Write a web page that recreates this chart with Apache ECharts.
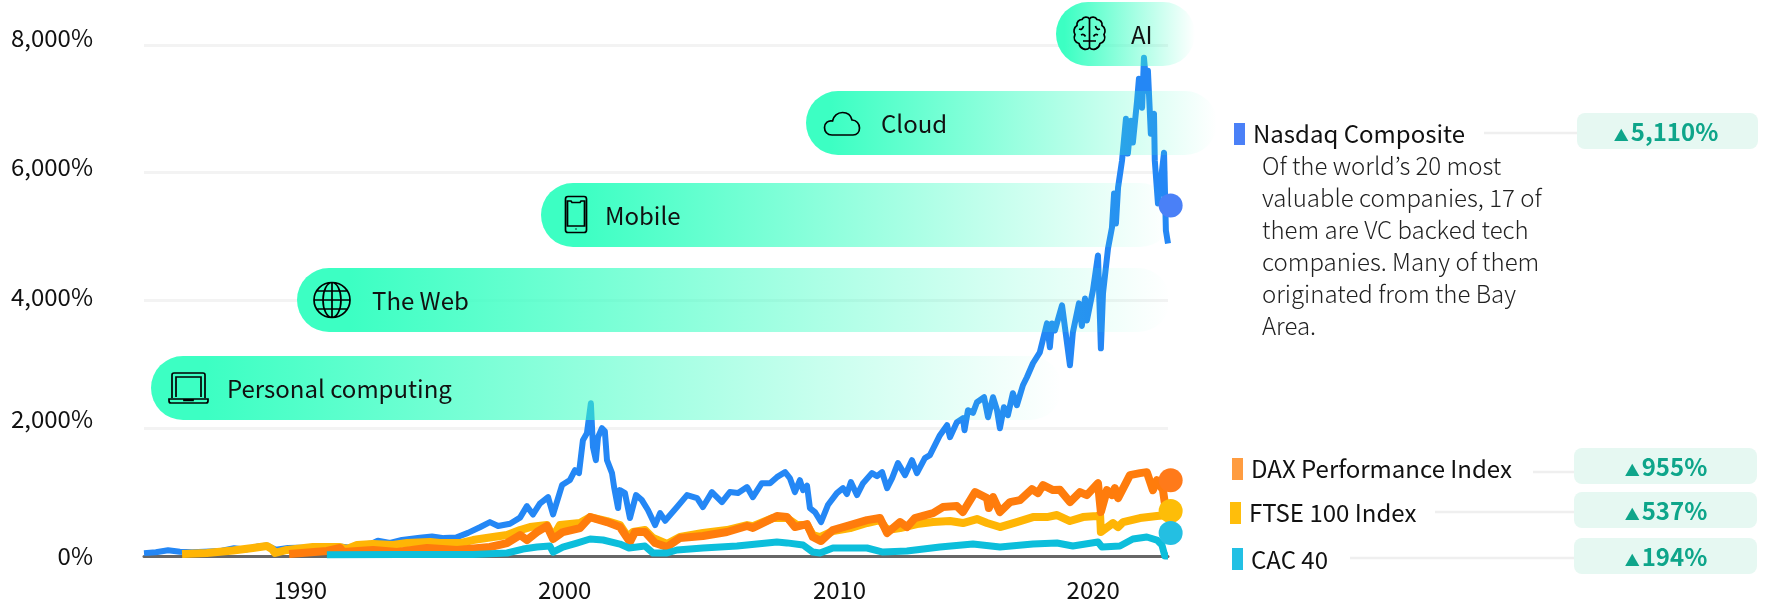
<!DOCTYPE html>
<html>
<head>
<meta charset="utf-8">
<style>
    html, body { margin: 0; padding: 0; background: #fff; }
    #chart { width: 1766px; height: 602px; }
</style>
<script src="https://cdn.jsdelivr.net/npm/echarts@6/dist/echarts.min.js"></script>
</head>
<body>
<div id="chart"></div>
<script>
const FONT = '"Noto Sans CJK KR", "Noto Sans", sans-serif';

// values: gain in % at a decimal year
const nasdaqDates = [1984.08,1984.53,1984.99,1985.44,1985.90,1986.58,1987.03,1987.49,1987.94,1988.39,1988.73,1989.07,1989.53,1990.21,1990.66,1991.12,1991.57,1991.80,1992.25,1992.71,1992.93,1993.39,1993.84,1994.52,1994.98,1995.43,1995.89,1996.34,1996.79,1997.17,1997.48,1997.93,1998.31,1998.57,1998.80,1999.06,1999.37,1999.56,1999.90,2000.20,2000.39,2000.54,2000.69,2000.84,2000.99,2001.07,2001.18,2001.26,2001.41,2001.52,2001.60,2001.79,2001.87,2002.02,2002.09,2002.28,2002.47,2002.70,2002.92,2003.15,2003.42,2003.61,2003.80,2004.25,2004.63,2005.01,2005.23,2005.57,2005.95,2006.25,2006.56,2006.90,2007.12,2007.46,2007.77,2008.03,2008.34,2008.52,2008.71,2008.90,2009.02,2009.17,2009.28,2009.47,2009.70,2009.96,2010.30,2010.53,2010.68,2010.83,2011.06,2011.29,2011.63,2011.82,2012.01,2012.20,2012.39,2012.61,2012.88,2013.14,2013.33,2013.63,2013.82,2014.20,2014.47,2014.58,2014.84,2015.07,2015.13,2015.26,2015.45,2015.60,2015.87,2016.02,2016.21,2016.36,2016.47,2016.62,2016.77,2016.96,2017.11,2017.34,2017.49,2017.72,2017.98,2018.25,2018.36,2018.44,2018.55,2018.82,2018.93,2019.12,2019.23,2019.46,2019.57,2019.69,2019.76,2019.99,2020.18,2020.29,2020.37,2020.56,2020.71,2020.79,2020.86,2020.94,2021.09,2021.24,2021.31,2021.43,2021.50,2021.66,2021.73,2021.85,2021.92,2022.03,2022.07,2022.18,2022.30,2022.33,2022.45,2022.56,2022.68,2022.75,2022.83];
const nasdaqValues = [45,60,90,68,58,70,82,122,100,150,165,100,125,132,150,140,146,132,178,195,240,205,250,285,305,280,290,362,450,530,470,505,600,780,650,820,920,650,1110,1190,1344,1297,1812,1920,2390,1703,1500,1860,2000,1950,1500,1297,1078,750,1031,984,594,953,875,719,484,672,552,766,953,906,766,1000,844,1000,985,1078,920,1140,1140,1234,1312,1219,1000,1187,1031,1100,750,688,531,797,984,1062,970,1156,953,1140,1297,1250,1312,1062,1219,1453,1266,1500,1297,1531,1578,1890,2047,1859,2094,2156,1969,2281,2240,2406,2484,2172,2484,2281,2000,2328,2203,2547,2359,2672,2797,3016,3187,3640,3266,3640,3531,3922,3578,2984,3500,3953,3600,4031,3687,4156,4703,3250,4109,4812,5140,5672,5203,5766,6187,6844,6297,6812,6469,7125,7469,7016,7797,7281,7594,6609,6922,6187,5515,5875,6312,5094,4890];

const ftseDates = [1985.52,1986.46,1987.45,1988.20,1988.73,1988.92,1989.04,1989.49,1990.47,1991.00,1991.50,1991.76,1992.14,1992.75,1993.50,1994.03,1994.90,1995.28,1996.04,1996.53,1997.29,1997.82,1998.31,1998.69,1999.33,1999.56,1999.82,2000.58,2000.96,2001.60,2002.09,2002.39,2002.58,2003.04,2003.34,2003.87,2004.36,2005.23,2006.14,2006.90,2007.12,2007.88,2008.41,2008.79,2009.17,2009.39,2009.66,2010.15,2010.80,2011.44,2011.93,2012.20,2012.69,2013.33,2013.94,2014.58,2015.07,2015.60,2015.98,2016.47,2017.11,2017.72,2018.25,2018.63,2019.12,2019.61,2020.14,2020.26,2020.29,2020.75,2020.94,2021.13,2021.77,2022.41,2022.83];
const ftseValues = [31,47,85,125,156,110,47,94,140,140,140,109,172,187,172,203,219,203,203,250,297,328,406,453,484,297,484,516,609,547,484,297,375,406,281,187,297,359,406,484,465,594,594,484,484,328,297,391,437,516,562,406,437,500,531,547,516,578,516,453,531,609,609,641,547,609,625,641,375,516,453,531,594,625,640];

const daxDates = [1989.57,1991.00,1991.50,1991.61,1992.75,1993.65,1994.79,1995.92,1997.17,1997.82,1998.31,1998.57,1998.95,1999.33,1999.56,1999.93,2000.58,2000.96,2001.60,2002.09,2002.47,2002.66,2003.04,2003.42,2003.87,2004.36,2005.23,2006.14,2006.90,2007.12,2008.03,2008.41,2008.71,2009.17,2009.39,2009.70,2010.15,2010.80,2011.44,2011.93,2012.20,2012.69,2012.95,2013.25,2013.94,2014.31,2014.84,2015.07,2015.53,2015.98,2016.05,2016.21,2016.47,2016.85,2017.23,2017.68,2017.91,2018.10,2018.48,2018.74,2019.12,2019.50,2019.76,2020.18,2020.29,2020.52,2020.71,2020.82,2020.94,2021.39,2021.77,2022.03,2022.26,2022.41,2022.64,2022.71,2022.83];
const daxValues = [31,78,125,62,94,62,125,94,141,203,328,250,375,469,266,375,437,609,531,453,219,375,375,203,140,281,312,375,469,440,625,609,453,500,297,234,406,484,562,594,359,531,453,594,672,766,781,688,1000,906,750,922,688,844,875,1047,984,1109,1031,1035,844,1000,953,1140,688,1031,953,1062,906,1266,1297,1312,1031,1187,1031,828,700];

const cacDates = [1991.00,1993.77,1996.53,1997.82,1998.42,1998.95,1999.44,1999.56,1999.93,2000.46,2000.96,2001.45,2002.09,2002.43,2003.04,2003.34,2003.87,2004.25,2005.23,2006.52,2008.03,2008.41,2009.02,2009.39,2009.66,2010.15,2011.44,2012.04,2012.95,2014.20,2015.45,2016.47,2017.72,2018.63,2019.23,2020.18,2020.33,2021.01,2021.50,2022.03,2022.41,2022.60,2022.71,2022.83];
const cacValues = [20,25,22,47,109,140,156,62,140,203,266,250,187,125,156,47,47,94,125,156,219,205,172,62,47,125,125,62,78,140,187,140,187,203,156,219,141,156,266,297,250,172,0,0];

// the round markers sit just past the last sample
const dotDate = 2022.93;
const dotValues = [5484, 1187, 703, 359];

// the printed labels do not sit exactly on their gridlines
const yTickPositions = [0, 2144, 4053, 6088, 8106];
const yTickLabels = ['0%', '2,000%', '4,000%', '6,000%', '8,000%'];
const xTickPositions = [1990, 2000, 2010.4, 2020];
const xTickLabels = ['1990', '2000', '2010', '2020'];

const seriesNames = ['Nasdaq Composite', 'DAX Performance Index', 'FTSE 100 Index', 'CAC 40'];
const seriesGains = ['5,110%', '955%', '537%', '194%'];
const nasdaqNote = [
    'Of the world\u2019s 20 most',
    'valuable companies, 17 of',
    'them are VC backed tech',
    'companies. Many of them',
    'originated from the Bay',
    'Area.'
];
const pillLabels = ['Personal computing', 'The Web', 'Mobile', 'Cloud', 'AI'];

const lineColors = ['#2487F5', '#FF7C0C', '#FFB505', '#0CBEDB'];
const dotColors = ['#4A80F7', '#FF7A1A', '#FDBD08', '#24BFE2'];
const swatchColors = ['#4A80F7', '#FF9C40', '#FFBE0B', '#22C0E4'];

const zip = function (xs, ys) {
    return xs.map(function (x, i) { return [x, ys[i]]; });
};

const pills = [
    { x: 151, y: 356, right: 1062, textX: 227 },
    { x: 297, y: 268, right: 1170, textX: 372 },
    { x: 541, y: 183, right: 1172, textX: 605 },
    { x: 806, y: 91, right: 1217, textX: 881 },
    { x: 1056, y: 2, right: 1195, textX: 1131 }
];

// outline icons, drawn in their own little coordinate box
const icons = [
    { x: 168, y: 372, d: 'M4 26V3Q4 1 6 1H35Q37 1 37 3V26M8 25V5H33V25M1 27H40V29Q40 31 38 31H3Q1 31 1 29ZM16 27V28.5H25V27' },
    { x: 314, y: 282, d: 'M0 18A18 17.5 0 1 1 36 18A18 17.5 0 1 1 0 18ZM18 0.5V35.5M18 0.5A9 17.5 0 0 0 18 35.5M18 0.5A9 17.5 0 0 1 18 35.5M0 18H36M3 9H33M3 27H33' },
    { x: 565, y: 196, d: 'M3 0.5H19Q21.5 0.5 21.5 3V34Q21.5 36.5 19 36.5H3Q0.5 36.5 0.5 34V3Q0.5 0.5 3 0.5ZM2.5 5V30H19.5V5H16L15 6.5H7L6 5ZM10.5 33H11.5' },
    { x: 824, y: 112, d: 'M8 23C3 23 0.5 19.5 0.5 15.5C0.5 11 4.5 8 8.5 9C9.5 4 13.5 0.5 18.5 0.5C23.5 0.5 27 3.5 28 8C32.5 8 35.5 12 35.5 16C35.5 20 33 23 29 23Z' },
    { x: 1073, y: 16, d: 'M16.5 3C15 0.5 10.5 0.5 9 3.5C5.5 3.5 3.5 6.5 4 9.5C1 11.5 0 15.5 2 18.5C0 22.5 2 26.5 6 27.5C7 32.5 13 35.5 16.5 31.5C20 35.5 26 32.5 27 27.5C31 26.5 33 22.5 31 18.5C33 15.5 32 11.5 29 9.5C29.5 6.5 27.5 3.5 24 3.5C22.5 0.5 18 0.5 16.5 3ZM16.5 3V31.5M16.5 25H10M16.5 25H23M6 13C8 14 10 13 10.5 10M27 13C25 14 23 13 22.5 10M8 19C10 18 11.5 18.5 12.5 20.5M25 19C23 18 21.5 18.5 20.5 20.5' }
];

icons.forEach(function (icon, i) {
    echarts.graphic.registerShape('pillIcon' + i, echarts.graphic.extendPath(icon.d, {}));
});

const rows = [
    { swatchX: 1234, swatchY: 123, textX: 1253, textY: 134, lineFrom: 1484, lineY: 133, badgeX: 1577, badgeY: 113, badgeW: 181 },
    { swatchX: 1232, swatchY: 458, textX: 1251, textY: 469, lineFrom: 1533, lineY: 472, badgeX: 1574, badgeY: 448, badgeW: 183 },
    { swatchX: 1230, swatchY: 502, textX: 1249, textY: 513, lineFrom: 1435, lineY: 512, badgeX: 1574, badgeY: 492, badgeW: 183 },
    { swatchX: 1232, swatchY: 548, textX: 1251, textY: 560, lineFrom: 1350, lineY: 558, badgeX: 1574, badgeY: 538, badgeW: 183 }
];

const elements = [];

pills.forEach(function (p, i) {
    elements.push({
        type: 'rect',
        z: 5,
        shape: { x: p.x, y: p.y, width: p.right - p.x, height: 64, r: 32 },
        style: {
            fill: new echarts.graphic.LinearGradient(0, 0, 1, 0, [
                { offset: 0, color: 'rgba(60,255,195,1)' },
                { offset: 0.06, color: 'rgba(60,255,195,1)' },
                { offset: 1, color: 'rgba(60,255,195,0)' }
            ])
        }
    });
    elements.push({
        type: 'text',
        z: 6,
        style: {
            x: p.textX, y: p.y + 33,
            text: pillLabels[i],
            font: '24px ' + FONT,
            fill: '#111',
            verticalAlign: 'middle'
        }
    });
    elements.push({
        type: 'pillIcon' + i,
        z: 6,
        x: icons[i].x,
        y: icons[i].y,
        style: { fill: 'none', stroke: '#000', lineWidth: 1.7 }
    });
});

rows.forEach(function (r, i) {
    elements.push({
        type: 'rect', z: 6,
        shape: { x: r.swatchX, y: r.swatchY, width: 11, height: 22 },
        style: { fill: swatchColors[i] }
    });
    elements.push({
        type: 'text', z: 6,
        style: {
            x: r.textX, y: r.textY, text: seriesNames[i],
            font: '24px ' + FONT, fill: '#111', verticalAlign: 'middle'
        }
    });
    elements.push({
        type: 'line', z: 4,
        shape: { x1: r.lineFrom, y1: r.lineY, x2: r.badgeX, y2: r.lineY },
        style: { stroke: '#EFEFEF', lineWidth: 2.5 }
    });
    elements.push({
        type: 'rect', z: 5,
        shape: { x: r.badgeX, y: r.badgeY, width: r.badgeW, height: 36, r: 8 },
        style: { fill: '#E6F8F2' }
    });
    elements.push({
        type: 'text', z: 6,
        style: {
            x: 1666, y: r.badgeY + 19,
            text: '{a|\u25B2}{b|' + seriesGains[i] + '}',
            align: 'center', verticalAlign: 'middle',
            rich: {
                a: { font: '15px ' + FONT, fill: '#0EA58A', verticalAlign: 'bottom', padding: [0, 2, 1, 0] },
                b: { font: 'bold 24px ' + FONT, fill: '#0EA58A' }
            }
        }
    });
});

nasdaqNote.forEach(function (line, i) {
    elements.push({
        type: 'text', z: 6,
        style: {
            x: 1262, y: 166 + i * 32, text: line,
            font: '300 24px ' + FONT, fill: '#222', verticalAlign: 'middle'
        }
    });
});

const lineSeries = [
    { name: seriesNames[0], color: lineColors[0], width: 6, data: zip(nasdaqDates, nasdaqValues), z: 2 },
    { name: seriesNames[2], color: lineColors[2], width: 8, data: zip(ftseDates, ftseValues), z: 3 },
    { name: seriesNames[1], color: lineColors[1], width: 8, data: zip(daxDates, daxValues), z: 3 },
    { name: seriesNames[3], color: lineColors[3], width: 7, data: zip(cacDates, cacValues), z: 3 }
].map(function (s) {
    return {
        name: s.name,
        type: 'line',
        z: s.z,
        clip: false,
        showSymbol: false,
        symbol: 'none',
        lineStyle: { color: s.color, width: s.width, join: 'round' },
        data: s.data
    };
});

const dotSeries = {
    type: 'scatter',
    z: 10,
    clip: false,
    symbolSize: 24,
    data: dotValues.map(function (v, i) {
        return { value: [dotDate, v], itemStyle: { color: dotColors[i], opacity: 1 } };
    })
};

const myChart = echarts.init(document.getElementById('chart'));
myChart.setOption({
    animation: false,
    backgroundColor: '#fff',
    textStyle: { fontFamily: FONT },
    grid: { left: 144, right: 598, top: 32, bottom: 46 },
    xAxis: {
        type: 'value',
        min: 1984.08,
        max: 2022.83,
        splitLine: { show: false },
        axisTick: { show: false },
        axisLine: { show: true, lineStyle: { color: '#666', width: 3 } },
        axisLabel: {
            customValues: xTickPositions,
            margin: 22,
            fontSize: 24,
            fontFamily: FONT,
            color: '#111',
            formatter: function (v) {
                return xTickLabels[xTickPositions.indexOf(v)];
            }
        }
    },
    yAxis: {
        type: 'value',
        min: 0,
        max: 8200,
        interval: 2000,
        axisLine: { show: false },
        axisTick: { show: false },
        splitLine: { showMaxLine: false, lineStyle: { color: '#F3F3F3', width: 3 } },
        axisLabel: {
            customValues: yTickPositions,
            margin: 51,
            fontSize: 24,
            fontFamily: FONT,
            color: '#111',
            formatter: function (v) {
                return yTickLabels[yTickPositions.indexOf(v)];
            }
        }
    },
    series: lineSeries.concat([dotSeries]),
    graphic: { elements: elements }
});

window.addEventListener('resize', function () {
    myChart.resize();
});
</script>
</body>
</html>
